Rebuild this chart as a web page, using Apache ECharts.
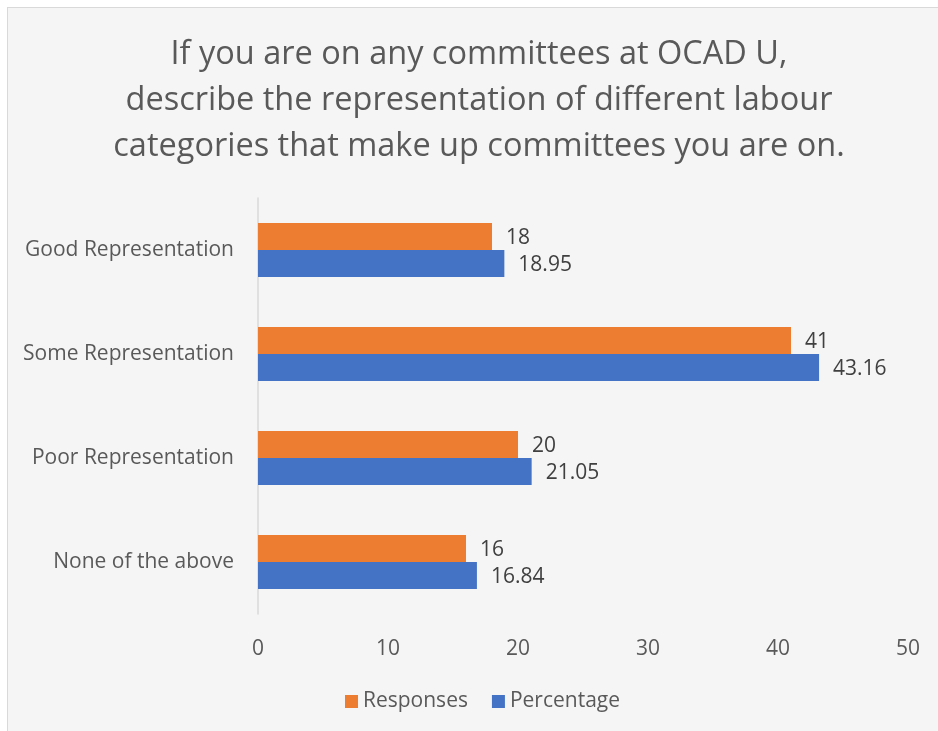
<!DOCTYPE html>
<html>
<head>
<meta charset="utf-8">
<script src="https://cdn.jsdelivr.net/npm/echarts@6/dist/echarts.min.js"></script>
<style>
  html, body { margin: 0; padding: 0; background: #ffffff; }
  #frame {
    position: absolute; left: 7px; top: 7px; width: 960px; height: 760px;
    background: #f5f5f5; border: 1px solid #d9d9d9; box-sizing: border-box;
  }
  #chart { position: absolute; left: 0; top: 0; width: 938px; height: 731px; }
</style>
</head>
<body>
<div id="frame"></div>
<div id="chart"></div>
<script>
// Committee representation survey results
const categories = ['Good Representation', 'Some Representation', 'Poor Representation', 'None of the above'];
const responses = [18, 41, 20, 16];
const percentage = [18.95, 43.16, 21.05, 16.84];
const seriesNames = ['Responses', 'Percentage'];
const titleText = 'If you are on any committees at OCAD U,\ndescribe the representation of different labour\ncategories that make up committees you are on.';

const FONT = '"Open Sans", "Noto Sans", sans-serif';
const chart = echarts.init(document.getElementById('chart'), null, { renderer: 'canvas' });

const labelStyle = {
  show: true,
  position: 'right',
  distance: 14,
  offset: [0, 2],
  color: '#404040',
  fontSize: 21,
  fontFamily: FONT
};

chart.setOption({
  backgroundColor: 'transparent',
  animation: false,
  title: {
    text: titleText,
    left: 474,
    top: 27,
    textAlign: 'center',
    textStyle: {
      color: '#595959',
      fontSize: 32.5,
      fontWeight: 'normal',
      fontFamily: FONT,
      lineHeight: 46
    }
  },
  legend: {
    data: seriesNames,
    left: 340,
    top: 686,
    itemWidth: 13,
    itemHeight: 13,
    itemGap: 24,
    icon: 'rect',
    textStyle: { color: '#595959', fontSize: 21, fontFamily: FONT }
  },
  grid: { left: 258, right: 30, top: 198, bottom: 117, containLabel: false },
  xAxis: {
    type: 'value',
    min: 0,
    max: 50,
    interval: 10,
    axisLine: { show: false },
    axisTick: { show: false },
    splitLine: { show: false },
    axisLabel: { color: '#595959', fontSize: 21, fontFamily: FONT, margin: 25 }
  },
  yAxis: {
    type: 'category',
    inverse: true,
    data: categories,
    axisLine: { show: true, lineStyle: { color: '#d9d9d9', width: 1.5 } },
    axisTick: { show: false },
    axisLabel: { color: '#595959', fontSize: 21, fontFamily: FONT, margin: 24, padding: [4, 0, 0, 0] }
  },
  series: [
    {
      name: seriesNames[0],
      type: 'bar',
      data: responses,
      barWidth: 27,
      barGap: '0%',
      itemStyle: { color: '#ED7D31' },
      label: labelStyle
    },
    {
      name: seriesNames[1],
      type: 'bar',
      data: percentage,
      barWidth: 27,
      barGap: '0%',
      itemStyle: { color: '#4472C4' },
      label: labelStyle
    }
  ]
});
</script>
</body>
</html>
